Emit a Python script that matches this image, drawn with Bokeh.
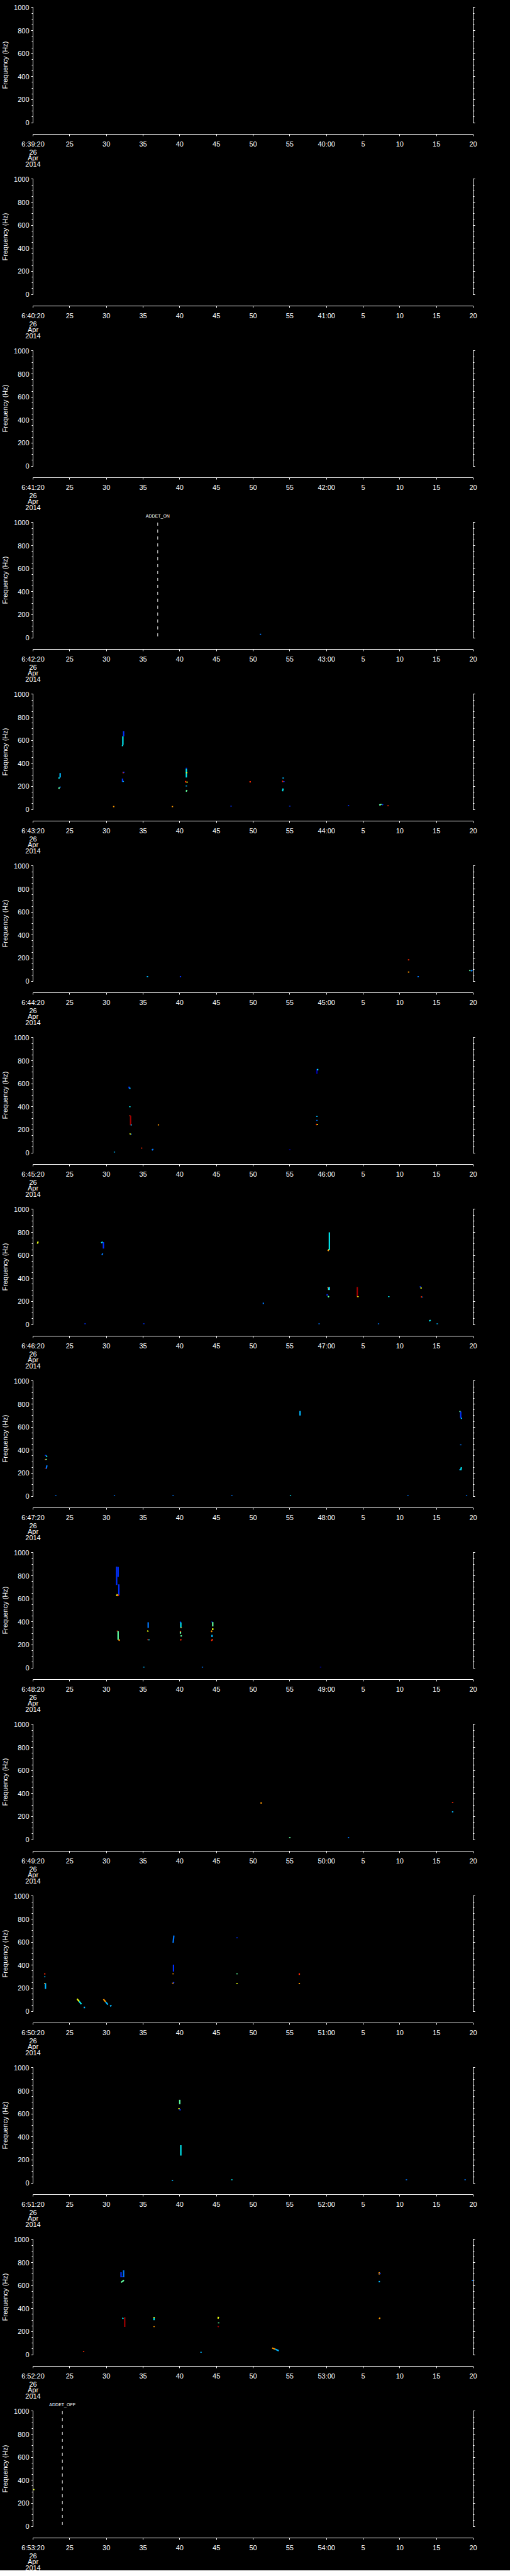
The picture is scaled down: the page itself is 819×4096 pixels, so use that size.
from bokeh.plotting import figure
from bokeh.models import (Range1d, LinearAxis, FixedTicker, Label, ColumnDataSource,
                          CustomLabelingPolicy)
from bokeh.core.properties import value
from bokeh.layouts import column
from bokeh.embed import file_html
from bokeh.resources import INLINE

# ---------------- data ----------------
# each panel covers one minute: 6:MM:20 .. 6:MM+1:20 (26 Apr 2014)
PANEL_START_MINUTE = list(range(39, 54))
DATE_LINES = ["26", "Apr", "2014"]
FREQ_TICKS = [0, 200, 400, 600, 800, 1000]
FREQ_MINOR = list(range(0, 1001, 50))
TIME_TICKS = list(range(0, 61, 5))   # seconds after the panel start

# event markers: (panel index, seconds after panel start, text)
EVENT_PANEL = [3, 14]
EVENT_SEC = [17.0, 4.0]
EVENT_TEXT = ["ADDET_ON", "ADDET_OFF"]

# intensity palette (jet-like), index = intensity level
LEVEL_COLORS = ["#0000a8", "#0030ff", "#0078ff", "#00b8ff", "#00e8f0",
                "#60ffa0", "#e8ff10", "#ff9800", "#ff2800", "#a00000"]

# detections per panel: (t0 s, t1 s, f0 Hz, f1 Hz, level)
MARKS_P04 = [(31.0, 31.0, 25, 35, 2)]
MARKS_P05 = [
    (3.5, 3.6, 268, 278, 4), (3.7, 3.7, 278, 316, 3), (3.5, 3.6, 180, 192, 5), (3.7, 3.7, 190, 198, 2),
    (12.2, 12.2, 549, 560, 4), (12.25, 12.25, 560, 635, 4), (12.35, 12.35, 635, 680, 1),
    (12.3, 12.3, 315, 327, 8), (12.38, 12.38, 318, 328, 1), (12.2, 12.2, 240, 268, 1), (12.3, 12.3, 240, 248, 3),
    (11.0, 11.0, 20, 30, 7),
    (20.9, 20.9, 277, 352, 4), (20.9, 20.9, 352, 362, 1), (20.95, 20.95, 315, 323, 6),
    (20.8, 20.8, 234, 248, 8), (21.0, 21.0, 232, 242, 6), (20.9, 20.9, 200, 208, 3), (20.85, 21.0, 155, 168, 5),
    (19.0, 19.0, 20, 30, 7), (27.0, 27.0, 25, 33, 1), (29.6, 29.6, 234, 246, 8),
    (34.1, 34.1, 268, 278, 3), (34.0, 34.1, 238, 248, 8), (34.2, 34.2, 238, 246, 1), (34.0, 34.1, 158, 182, 4),
    (35.0, 35.0, 25, 33, 1), (43.0, 43.0, 30, 38, 1), (47.2, 47.5, 38, 46, 5), (47.6, 47.7, 38, 46, 1),
    (48.4, 48.4, 28, 36, 8),
]
MARKS_P06 = [
    (15.6, 15.6, 34, 44, 3), (20.1, 20.1, 34, 44, 1), (51.2, 51.2, 180, 190, 8), (51.2, 51.2, 74, 84, 7),
    (52.5, 52.5, 34, 44, 2), (59.5, 59.6, 88, 96, 5), (59.7, 59.9, 88, 96, 2),
]
MARKS_P07 = [
    (13.1, 13.1, 560, 575, 1), (13.2, 13.2, 555, 565, 3), (13.2, 13.2, 396, 404, 4),
    (13.2, 13.2, 318, 326, 8), (13.3, 13.3, 240, 323, 9), (13.4, 13.4, 238, 246, 3),
    (13.2, 13.3, 160, 168, 6), (13.4, 13.4, 160, 166, 2), (14.8, 14.8, 37, 45, 8), (16.2, 16.4, 24, 32, 2),
    (17.1, 17.1, 238, 248, 7), (11.1, 11.1, 3, 10, 3), (35.0, 35.0, 24, 32, 0),
    (38.7, 38.7, 686, 728, 0), (38.8, 38.8, 716, 728, 4), (38.7, 38.7, 312, 320, 3), (38.7, 38.7, 278, 286, 2),
    (38.6, 38.7, 242, 250, 8), (38.78, 38.78, 242, 250, 6),
]
MARKS_P08 = [
    (0.6, 0.7, 702, 720, 6), (9.3, 9.5, 708, 718, 4), (9.6, 9.6, 660, 716, 1), (9.4, 9.5, 603, 617, 2),
    (31.4, 31.4, 178, 190, 2), (40.4, 40.4, 653, 800, 4), (40.2, 40.3, 638, 650, 7), (40.35, 40.35, 645, 655, 5),
    (40.2, 40.2, 316, 324, 8), (40.3, 40.3, 300, 322, 5), (40.4, 40.4, 300, 326, 3),
    (40.1, 40.1, 250, 264, 1), (40.2, 40.35, 238, 246, 5), (44.2, 44.2, 238, 326, 9), (44.3, 44.3, 238, 246, 6),
    (48.5, 48.5, 238, 246, 4), (52.8, 52.8, 322, 332, 1), (52.9, 52.9, 312, 322, 6),
    (52.9, 53.0, 236, 244, 8), (53.1, 53.1, 236, 242, 2), (54.0, 54.2, 30, 38, 4), (55.1, 55.1, 3, 10, 3),
    (7.1, 7.1, 3, 10, 1), (15.1, 15.1, 3, 10, 1), (39.0, 39.0, 3, 10, 2), (47.1, 47.1, 3, 10, 2),
]
MARKS_P09 = [
    (1.7, 1.7, 350, 360, 1), (1.8, 1.9, 343, 352, 4), (1.7, 1.7, 314, 322, 8), (1.8, 1.8, 316, 324, 5),
    (1.8, 1.9, 238, 268, 2), (1.7, 1.7, 236, 244, 9), (36.4, 36.4, 700, 740, 3),
    (58.2, 58.2, 730, 740, 5), (58.3, 58.3, 680, 735, 1), (58.4, 58.4, 670, 682, 3), (58.3, 58.3, 442, 450, 2),
    (58.3, 58.4, 226, 252, 4), (58.2, 58.2, 226, 234, 3),
    (3.1, 3.1, 2, 9, 2), (11.1, 11.1, 2, 9, 2), (19.1, 19.1, 2, 9, 2), (27.1, 27.1, 2, 9, 2),
    (35.1, 35.1, 2, 9, 4), (51.1, 51.1, 2, 9, 2), (59.1, 59.1, 2, 9, 2),
]
MARKS_P10 = [
    (11.4, 11.4, 720, 880, 1), (11.6, 11.6, 790, 876, 1), (11.7, 11.7, 630, 725, 1),
    (11.4, 11.5, 624, 640, 6), (11.6, 11.6, 624, 636, 8), (11.5, 11.5, 316, 324, 8), (11.6, 11.6, 243, 320, 5),
    (11.7, 11.8, 236, 248, 7), (15.7, 15.7, 347, 396, 2), (15.6, 15.7, 315, 324, 6), (15.6, 15.7, 240, 250, 9),
    (15.8, 15.8, 240, 248, 4), (20.1, 20.1, 390, 402, 1), (20.15, 20.15, 347, 395, 4), (20.2, 20.2, 345, 352, 7),
    (20.1, 20.1, 312, 322, 8), (20.1, 20.1, 297, 314, 5), (20.2, 20.2, 272, 284, 5), (20.1, 20.2, 239, 249, 8),
    (24.4, 24.4, 396, 402, 1), (24.5, 24.5, 360, 398, 5), (24.5, 24.5, 328, 344, 6), (24.3, 24.4, 312, 324, 7),
    (24.4, 24.4, 268, 287, 3), (24.3, 24.5, 236, 248, 8),
    (15.1, 15.1, 3, 10, 3), (23.1, 23.1, 3, 10, 2), (39.2, 39.2, 3, 10, 0),
]
MARKS_P11 = [
    (31.1, 31.1, 312, 324, 7), (35.0, 35.0, 14, 22, 5), (43.0, 43.0, 14, 22, 2),
    (57.2, 57.2, 318, 326, 8), (57.2, 57.2, 236, 246, 3),
]
MARKS_P12 = [
    (1.6, 1.6, 320, 330, 8), (1.6, 1.6, 296, 304, 3), (1.6, 1.6, 238, 246, 7), (1.7, 1.7, 194, 244, 3),
    (6.0, 6.3, 108, 85, 6), (6.3, 6.6, 85, 62, 4), (7.0, 7.0, 27, 40, 3),
    (9.6, 9.9, 105, 82, 7), (9.9, 10.2, 82, 58, 3), (10.5, 10.7, 44, 52, 3),
    (19.1, 19.2, 595, 658, 2), (19.15, 19.15, 345, 405, 1), (19.1, 19.1, 321, 329, 7),
    (19.1, 19.2, 240, 254, 1), (19.05, 19.05, 240, 248, 7),
    (27.8, 27.8, 634, 642, 1), (27.8, 27.8, 321, 329, 5), (27.8, 27.8, 238, 246, 6),
    (36.3, 36.3, 316, 330, 8), (36.3, 36.3, 236, 246, 7),
]
MARKS_P13 = [
    (20.0, 20.0, 684, 722, 5), (19.9, 19.9, 640, 650, 6), (20.05, 20.05, 630, 642, 1),
    (20.15, 20.15, 238, 328, 4), (19.0, 19.0, 18, 26, 3), (27.1, 27.1, 24, 32, 4),
    (50.9, 50.9, 24, 32, 2), (58.9, 58.9, 24, 32, 2),
]
MARKS_P14 = [
    (12.0, 12.0, 672, 716, 1), (12.35, 12.35, 672, 732, 2), (12.15, 12.15, 672, 680, 1),
    (12.0, 12.4, 628, 646, 5), (12.5, 12.5, 241, 325, 9), (12.2, 12.3, 312, 320, 4),
    (16.5, 16.5, 300, 318, 4), (16.5, 16.5, 318, 328, 6), (16.5, 16.5, 240, 248, 7),
    (25.2, 25.3, 313, 329, 6), (25.3, 25.3, 272, 280, 5), (25.2, 25.3, 240, 248, 9),
    (32.6, 33.0, 58, 48, 7), (33.0, 33.5, 48, 34, 3), (6.9, 6.9, 25, 33, 8), (22.9, 22.9, 17, 25, 3),
    (47.2, 47.2, 696, 716, 7), (47.3, 47.3, 700, 710, 1), (47.2, 47.2, 628, 640, 3),
    (47.2, 47.3, 310, 321, 7), (59.9, 59.9, 640, 650, 2),
]
MARKS_P15 = [(0.1, 0.1, 314, 324, 6)]

PANEL_MARKS = [[], [], [], MARKS_P04, MARKS_P05, MARKS_P06, MARKS_P07, MARKS_P08,
               MARKS_P09, MARKS_P10, MARKS_P11, MARKS_P12, MARKS_P13, MARKS_P14, MARKS_P15]

# ---------------- styling / layout ----------------
FONT = "Liberation Sans"
FIG_W = 811
PANEL_H = 273
SEC_PER_PX = 60.0 / 700.0           # 0..60 s spans 700 px
LEFT_PX, RIGHT_PX = 52, 59          # figure room left of 0 s / right of 60 s
X_LEFT = -LEFT_PX * SEC_PER_PX
X_RIGHT = 60 + RIGHT_PX * SEC_PER_PX
HZ_PER_PX = 1000.0 / 183.2          # 0..1000 Hz spans 183.2 px
AXIS_GAP_PX = 18.8                  # x-axis line sits this far below 0 Hz
TOP_GAP_PX = 19.4                   # 1000 Hz sits this far below the panel top
BELOW_AXIS_PX = 51.6                # room under the time axis line
Y_AXIS = -AXIS_GAP_PX * HZ_PER_PX
Y_BOTTOM = Y_AXIS - BELOW_AXIS_PX * HZ_PER_PX
DATE_DROP_PX = [28.3, 37.5, 46.7]   # baselines of the date lines below the time axis

NO_LABELS = CustomLabelingPolicy(code="return []")
BLACK = {"background-color": "black"}


def tick_labels(minute):
    labels = {}
    for s in TIME_TICKS:
        sec = 20 + s
        if s == 0:
            labels[s] = "6:%02d:20" % minute
        elif sec == 60:
            labels[s] = "%d:00" % (minute + 1)
        else:
            labels[s] = str(sec % 60)
    return labels


def make_panel(i):
    cut = 8 if i == 0 else 0          # page margin eats the top of the first panel
    h = PANEL_H - cut
    y_high = 1000 + (TOP_GAP_PX - cut) * HZ_PER_PX
    p = figure(width=FIG_W, height=h, output_backend="svg", toolbar_location=None,
               x_range=Range1d(X_LEFT, X_RIGHT), y_range=Range1d(Y_BOTTOM, y_high),
               min_border=0, background_fill_color="black",
               border_fill_color="black", outline_line_color=None,
               x_axis_location=None, y_axis_location=None, styles=BLACK)
    p.xgrid.visible = False
    p.ygrid.visible = False

    common = dict(axis_line_color="white", major_tick_line_color="white",
                  minor_tick_line_color="white", major_label_text_color="white",
                  major_label_text_font=FONT, major_label_text_font_size="11px",
                  axis_line_width=1, major_tick_line_width=1, minor_tick_line_width=1)

    ya = LinearAxis(bounds=(0, 1000), fixed_location=TIME_TICKS[0],
                    ticker=FixedTicker(ticks=FREQ_TICKS, minor_ticks=FREQ_MINOR),
                    axis_label="Frequency (Hz)", axis_label_text_color="white",
                    axis_label_text_font=FONT, axis_label_text_font_size="11px",
                    axis_label_text_font_style="normal", axis_label_standoff=5,
                    major_tick_out=3, major_tick_in=0, minor_tick_out=2, minor_tick_in=0,
                    major_label_standoff=3, **common)
    p.add_layout(ya, "left")

    ya2 = LinearAxis(bounds=(0, 1000), fixed_location=TIME_TICKS[-1],
                     ticker=FixedTicker(ticks=FREQ_TICKS, minor_ticks=FREQ_MINOR),
                     major_tick_out=3, major_tick_in=0, minor_tick_out=2, minor_tick_in=0,
                     major_label_policy=NO_LABELS, **common)
    p.add_layout(ya2, "right")

    xa = LinearAxis(bounds=(TIME_TICKS[0], TIME_TICKS[-1]), fixed_location=Y_AXIS,
                    ticker=FixedTicker(ticks=TIME_TICKS, minor_ticks=[]),
                    major_label_overrides=tick_labels(PANEL_START_MINUTE[i]),
                    major_tick_out=3, major_tick_in=0, minor_tick_out=0, minor_tick_in=0,
                    major_label_standoff=6, **common)
    p.add_layout(xa, "below")

    # date lines under the first time label
    p.text(x=[TIME_TICKS[0]] * len(DATE_LINES),
           y=[Y_AXIS - d * HZ_PER_PX for d in DATE_DROP_PX], text=DATE_LINES,
           text_align="center", text_baseline="alphabetic", text_font=value(FONT),
           text_font_size="11px", text_color="white")

    marks = PANEL_MARKS[i]
    if marks:
        src = ColumnDataSource(dict(
            x0=[m[0] for m in marks], x1=[m[1] for m in marks],
            y0=[m[2] for m in marks], y1=[m[3] for m in marks],
            c=[LEVEL_COLORS[m[4]] for m in marks]))
        p.segment(x0="x0", y0="y0", x1="x1", y1="y1", color="c", line_width=2.2,
                  line_cap="butt", source=src)

    for k, pi in enumerate(EVENT_PANEL):
        if pi == i:
            t = EVENT_SEC[k]
            p.segment(x0=[t], y0=[1000], x1=[t], y1=[0], line_color="white",
                      line_width=1, line_dash="5 6")
            p.add_layout(Label(x=t, y=1000, y_offset=10, text=EVENT_TEXT[k],
                               text_align="center", text_baseline="alphabetic",
                               text_font=FONT, text_font_size="7px", text_color="white"))
    return p


figs = [make_panel(i) for i in range(len(PANEL_START_MINUTE))]
layout = column(*figs, spacing=0, styles=BLACK)

html = file_html(layout, INLINE, "Frequency")
html = html.replace("<body>", '<body style="background-color:black;">', 1)
open("out.html", "w").write(html)
